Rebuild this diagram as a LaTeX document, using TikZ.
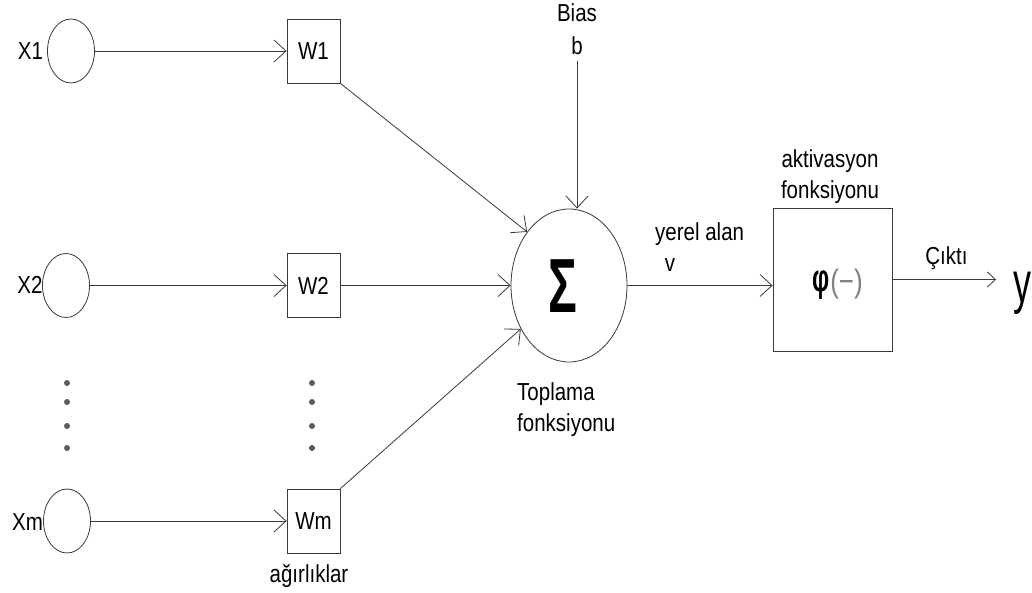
\documentclass[tikz,border=0pt]{standalone}
\usepackage{fontspec}
\setmainfont{Liberation Sans}
\usetikzlibrary{arrows.meta,shapes.geometric}
\newcommand{\st}[1]{\scalebox{1}[1.2]{#1}}
\newcommand{\bigst}[1]{\scalebox{1}[1.6]{#1}}
\definecolor{ln}{HTML}{3A3A3A}
\definecolor{dotc}{HTML}{5C5C5C}
\definecolor{parc}{HTML}{808080}
\begin{document}
\begin{tikzpicture}[x=1pt,y=-1pt,
  every node/.style={font=\fontsize{20.5}{22}\selectfont, inner sep=0pt, text=black},
  conn/.style={draw=ln, line width=0.8pt, -{Straight Barb[length=12pt,width=22pt]}},
  connsmall/.style={draw=ln, line width=0.8pt, -{Straight Barb[length=8pt,width=15pt]}},
  inp/.style={draw=ln, line width=0.8pt, ellipse, minimum width=47pt, minimum height=64pt},
  wbox/.style={draw=ln, line width=0.8pt, rectangle, minimum width=53pt, minimum height=64pt},
  dotn/.style={circle, fill=dotc, minimum size=6pt}]
\useasboundingbox (0,0) rectangle (1032,593);
\fill[white] (0,0) rectangle (1032,593);

% inputs
\node[inp] (x1) at (71,51) {};
\node[inp] (x2) at (66,285.5) {};
\node[inp] (xm) at (67,521) {};
\node (x1l) at (30.5,51) {\st{X1}};
\node (x2l) at (30,285) {\st{X2}};
\node (xml) at (27.5,522) {\st{Xm}};

% weights
\node[wbox] (w1) at (313.5,51) {\st{W1}};
\node[wbox] (w2) at (313.5,285.5) {\st{W2}};
\node[wbox] (wm) at (313.5,521) {\st{Wm}};
\node[anchor=base] (agir) at (309,582) {\st{ağırlıklar}};

% dots
\foreach \i/\yy in {1/383,2/402,3/426,4/448}{
  \node[dotn] (dl\i) at (67,\yy) {};
  \node[dotn] (dr\i) at (312,\yy) {};
}

% summation
\node[draw=ln, line width=0.8pt, ellipse, minimum width=116pt, minimum height=153pt] (sum) at (569,285.5) {};
\node (sumsym) at (563,286) {\fontsize{48}{50}\selectfont\bfseries\bigst{Σ}};
\node[anchor=base west] (topl) at (517,400) {\st{Toplama}};
\node[anchor=base west] (topf) at (517,431) {\st{fonksiyonu}};

% bias
\node (bias) at (577,12.5) {\st{Bias}};
\node (b) at (577,45.5) {\st{b}};

% local field
\node[anchor=base west] (yerel) at (655,241) {\st{yerel alan}};
\node[anchor=base] (v) at (670,272) {\st{v}};

% activation
\node[draw=ln, line width=0.8pt, rectangle, minimum width=119pt, minimum height=143pt] (act) at (832.5,279.5) {};
\node (phi) at (821.5,285) {\fontsize{24}{26}\selectfont\bfseries\bigst{φ}};
\node (par) at (846.5,284) {\fontsize{26}{28}\selectfont\color{parc}\scalebox{1}[1.25]{(−)}};
\node[anchor=base] (akt) at (830,168) {\st{aktivasyon}};
\node[anchor=base] (aktf) at (830,199) {\st{fonksiyonu}};

% output
\node[anchor=base] (cikti) at (946.5,265) {\st{Çıktı}};
\coordinate (yout) at (996,279.5);
\node (ylbl) at (1022,293) {\fontsize{36}{38}\selectfont\bigst{y}};

% connectors
\draw[conn] (x1.east) -- (w1.west);
\draw[conn] (x2.east) -- (w2.west);
\draw[conn] (xm.east) -- (wm.west);
\draw[conn] (w1.south east) -- (sum.128);
\draw[conn] (w2.east) -- (sum.west);
\draw[conn] (wm.north east) -- (sum.222);
\draw[conn] ([yshift=-6pt]b.south) -- (b.south |- sum.north);
\draw[conn] (sum.east) -- (sum.east -| act.west);
\draw[connsmall] (act.east) -- (yout);
\end{tikzpicture}
\end{document}
